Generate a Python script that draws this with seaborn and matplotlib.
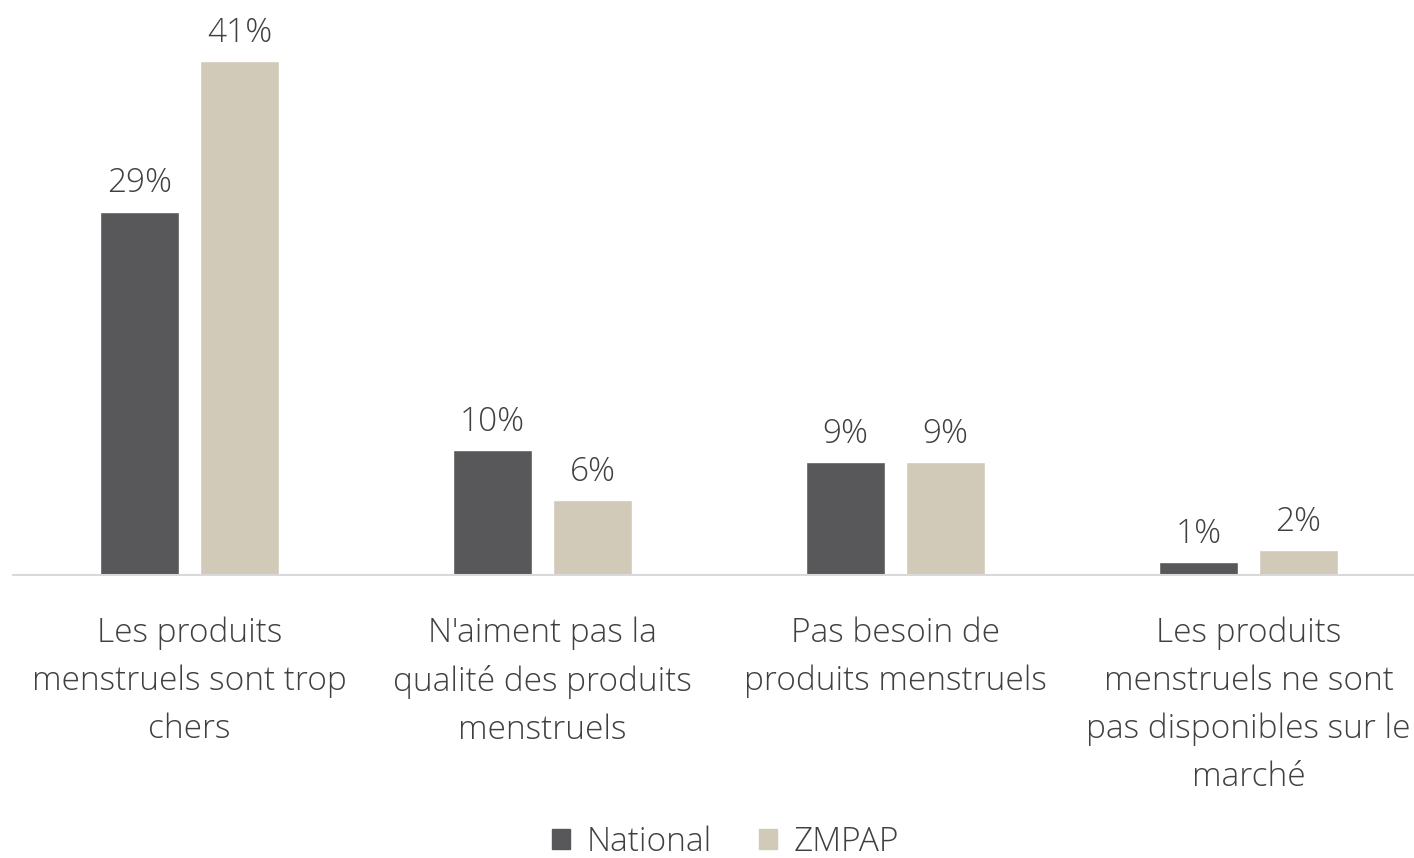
import matplotlib.pyplot as plt
import seaborn as sns
import pandas as pd

categories = [
    "Les produits\nmenstruels sont trop\nchers",
    "N'aiment pas la\nqualité des produits\nmenstruels",
    "Pas besoin de\nproduits menstruels",
    "Les produits\nmenstruels ne sont\npas disponibles sur le\nmarché",
]
series = ["National", "ZMPAP"]
national = [29, 10, 9, 1]
zmpap = [41, 6, 9, 2]
colors = ["#58585A", "#D1CAB8"]

sns.set_theme(style="white")
plt.rcParams['font.family'] = ['Open Sans', 'DejaVu Sans']
plt.rcParams['font.weight'] = 'light'
text_color = '#404040'

df = pd.DataFrame({
    "cat": categories * 2,
    "serie": [series[0]] * 4 + [series[1]] * 4,
    "val": national + zmpap,
})

fig = plt.figure(figsize=(14.14, 8.58), dpi=100)
ax = fig.add_axes([13 / 1414, 283 / 858, 1412 / 1414, 564 / 858])

sns.barplot(data=df, x="cat", y="val", hue="serie", order=categories,
            hue_order=series, palette=colors, width=0.566, gap=0.21,
            saturation=1, ax=ax, legend=False)

for cont in ax.containers:
    ax.bar_label(cont, labels=[f"{v:.0f}%" for v in cont.datavalues],
                 padding=8, fontsize=24, color=text_color, fontweight='light')

ax.set_xlim(-0.5, 3.5)
ax.set_ylim(0, 45)
ax.set_yticks([])
ax.set_xlabel("")
ax.set_ylabel("")
for s in ["top", "right", "left"]:
    ax.spines[s].set_visible(False)
ax.spines["bottom"].set_color("#D9D9D9")
ax.spines["bottom"].set_linewidth(1.5)
ax.tick_params(axis="x", length=0, pad=30, labelsize=24, labelcolor=text_color)
for lab in ax.get_xticklabels():
    lab.set_fontweight('light')
    lab.set_linespacing(1.57)

handles = [plt.Rectangle((0, 0), 1, 1, color=c) for c in colors]
fig.legend(handles, series, loc="center", bbox_to_anchor=(0.513, 16 / 858),
           ncol=2, frameon=False, fontsize=24, handlelength=0.55, handleheight=0.55,
           handletextpad=0.5, columnspacing=1.4, labelcolor=text_color)

fig.savefig("out.png", dpi=100)
